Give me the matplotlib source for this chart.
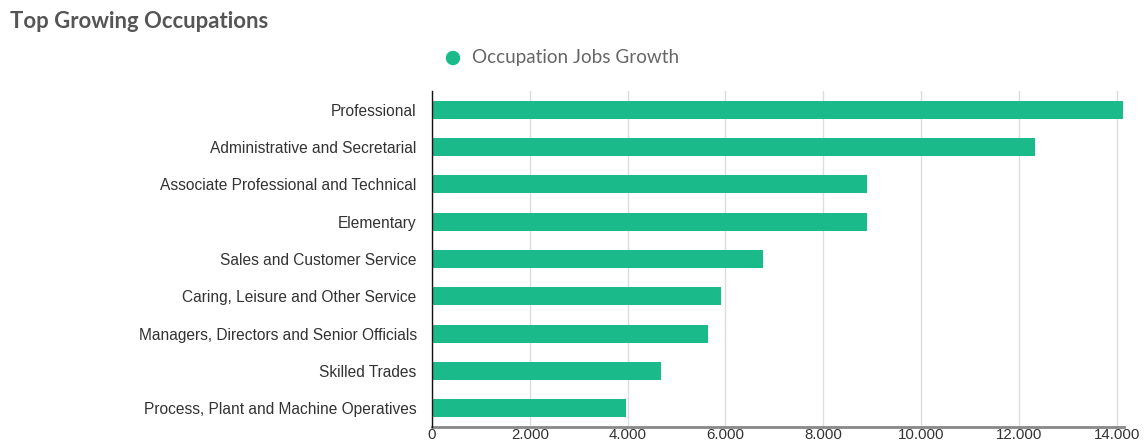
import matplotlib
matplotlib.use("Agg")
import matplotlib.pyplot as plt
from matplotlib.ticker import FuncFormatter

occupations = [
    "Professional",
    "Administrative and Secretarial",
    "Associate Professional and Technical",
    "Elementary",
    "Sales and Customer Service",
    "Caring, Leisure and Other Service",
    "Managers, Directors and Senior Officials",
    "Skilled Trades",
    "Process, Plant and Machine Operatives",
]
jobs_growth = [14120, 12320, 8890, 8890, 6765, 5906, 5640, 4680, 3965]
x_ticks = [0, 2000, 4000, 6000, 8000, 10000, 12000, 14000]

BAR = "#1bba8a"
W, H = 1147, 441
fig = plt.figure(figsize=(W / 100, H / 100), dpi=100)
ax = fig.add_axes([432 / W, 1 - 427 / H, (1124 - 432) / W, (427 - 91) / H])

ypos = list(range(len(occupations)))
ax.barh(ypos, jobs_growth, height=0.48, color=BAR, zorder=3)
ax.set_ylim(len(occupations) - 0.5, -0.5)
ax.set_xlim(0, 14150)

ax.set_yticks(ypos)
ax.set_yticklabels(occupations, fontfamily="Liberation Sans", fontsize=11.2, color="#333333")
ax.set_xticks(x_ticks)
ax.xaxis.set_major_formatter(FuncFormatter(lambda v, p: f"{int(v):,}".replace(",", ".")))
for lbl in ax.get_xticklabels():
    lbl.set_fontfamily("Liberation Sans")
    lbl.set_fontsize(10.8)
    lbl.set_color("#333333")
ax.tick_params(axis="y", length=0, pad=11)
ax.tick_params(axis="x", length=0, pad=1)

ax.grid(axis="x", color="#dddddd", linewidth=1, zorder=0)
for side in ("top", "right"):
    ax.spines[side].set_visible(False)
ax.spines["left"].set_color("#111111")
ax.spines["left"].set_linewidth(1)
ax.spines["left"].set_zorder(4)
ax.spines["bottom"].set_color("#888888")
ax.spines["bottom"].set_linewidth(2)

fig.text(10 / W, 1 - 22 / H, "Top Growing Occupations", fontfamily="Lato",
         fontweight="bold", fontsize=15.9, color="#555555", va="center", ha="left")

fig.patches.append(matplotlib.patches.Ellipse((453 / W, 1 - 58 / H), 13 / W, 13 / H,
                                              transform=fig.transFigure, color=BAR))
fig.text(472 / W, 1 - 58 / H, "Occupation Jobs Growth", fontfamily="Lato",
         fontsize=13.6, color="#666666", va="center", ha="left")

fig.savefig("out.png", dpi=100)
